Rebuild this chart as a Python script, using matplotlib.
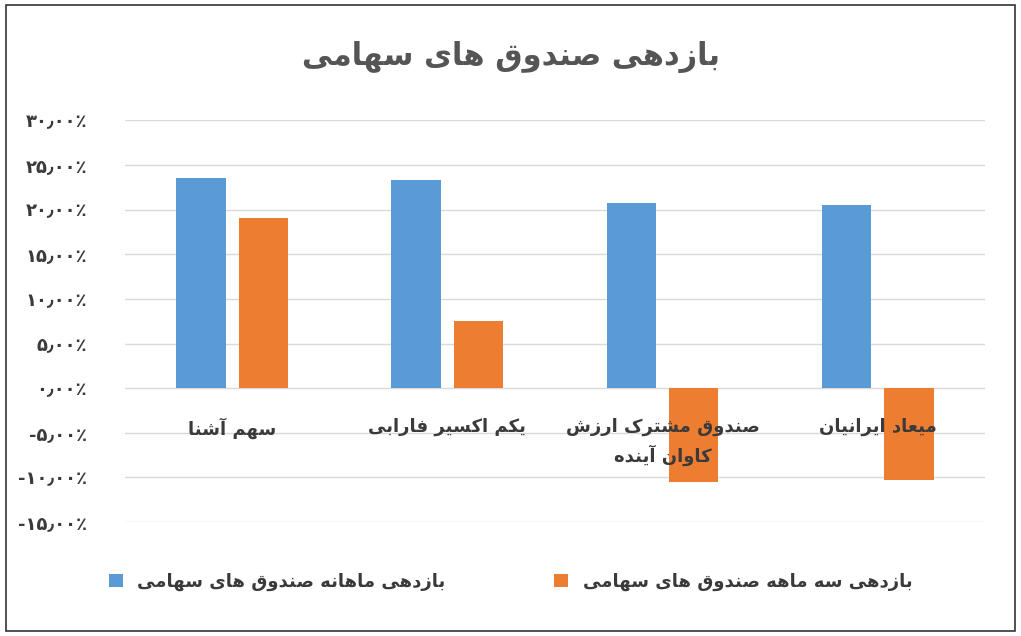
import matplotlib
matplotlib.use("Agg")
import matplotlib.pyplot as plt
import numpy as np
from matplotlib.patches import Rectangle

F = {
'ا':(0xFE8D,0xFE8E,None,None),'آ':(0xFE81,0xFE82,None,None),
'ب':(0xFE8F,0xFE90,0xFE91,0xFE92),'پ':(0xFB56,0xFB57,0xFB58,0xFB59),
'ت':(0xFE95,0xFE96,0xFE97,0xFE98),'ث':(0xFE99,0xFE9A,0xFE9B,0xFE9C),
'ج':(0xFE9D,0xFE9E,0xFE9F,0xFEA0),'چ':(0xFB7A,0xFB7B,0xFB7C,0xFB7D),
'ح':(0xFEA1,0xFEA2,0xFEA3,0xFEA4),'خ':(0xFEA5,0xFEA6,0xFEA7,0xFEA8),
'د':(0xFEA9,0xFEAA,None,None),'ذ':(0xFEAB,0xFEAC,None,None),
'ر':(0xFEAD,0xFEAE,None,None),'ز':(0xFEAF,0xFEB0,None,None),'ژ':(0xFB8A,0xFB8B,None,None),
'س':(0xFEB1,0xFEB2,0xFEB3,0xFEB4),'ش':(0xFEB5,0xFEB6,0xFEB7,0xFEB8),
'ص':(0xFEB9,0xFEBA,0xFEBB,0xFEBC),'ض':(0xFEBD,0xFEBE,0xFEBF,0xFEC0),
'ط':(0xFEC1,0xFEC2,0xFEC3,0xFEC4),'ظ':(0xFEC5,0xFEC6,0xFEC7,0xFEC8),
'ع':(0xFEC9,0xFECA,0xFECB,0xFECC),'غ':(0xFECD,0xFECE,0xFECF,0xFED0),
'ف':(0xFED1,0xFED2,0xFED3,0xFED4),'ق':(0xFED5,0xFED6,0xFED7,0xFED8),
'ک':(0xFB8E,0xFB8F,0xFB90,0xFB91),'گ':(0xFB92,0xFB93,0xFB94,0xFB95),
'ل':(0xFEDD,0xFEDE,0xFEDF,0xFEE0),'م':(0xFEE1,0xFEE2,0xFEE3,0xFEE4),
'ن':(0xFEE5,0xFEE6,0xFEE7,0xFEE8),'و':(0xFEED,0xFEEE,None,None),
'ه':(0xFEE9,0xFEEA,0xFEEB,0xFEEC),'ی':(0xFBFC,0xFBFD,0xFBFE,0xFBFF),
}
def shape(s):
    out = []
    for i, c in enumerate(s):
        if c not in F:
            out.append(c); continue
        p = s[i-1] if i > 0 else ''
        n = s[i+1] if i+1 < len(s) else ''
        jp = p in F and F[p][2] is not None
        jn = n in F and F[c][2] is not None
        f = F[c]
        if jp and jn: ch = f[3]
        elif jp: ch = f[1]
        elif jn: ch = f[2]
        else: ch = f[0]
        out.append(chr(ch))
    return ''.join(out)[::-1]

def fa(s):
    return '\n'.join(shape(l) for l in s.split('\n'))

categories = ['سهم آشنا', 'یکم اکسیر فارابی', 'صندوق مشترک ارزش\nکاوان آینده', 'میعاد ایرانیان']
monthly = [23.5, 23.3, 20.7, 20.5]
quarterly = [19.0, 7.5, -10.5, -10.3]
series_names = ['بازدهی ماهانه صندوق های سهامی', 'بازدهی سه ماهه صندوق های سهامی']
title = 'بازدهی صندوق های سهامی'
ticks = [-15, -10, -5, 0, 5, 10, 15, 20, 25, 30]

pd_ = str.maketrans('0123456789', '۰۱۲۳۴۵۶۷۸۹')
def tl(v):
    return ('%d' % v).translate(pd_) + '٫۰۰' + '٪'

plt.rcParams['font.family'] = ['DejaVu Sans']
fig = plt.figure(figsize=(10.21, 6.36), dpi=100)
fig.patches.append(Rectangle((0.006, 0.008), 0.988, 0.984, transform=fig.transFigure,
                             fill=False, ec='#333333', lw=1.2))
ax = fig.add_axes([0.122, 0.179, 0.843, 0.632])
x = np.arange(len(categories))
w = 0.23
blue, orange = '#5b9bd5', '#ed7d31'
ax.bar(x - 0.145, monthly, w, color=blue, label=fa(series_names[0]))
ax.bar(x + 0.145, quarterly, w, color=orange, label=fa(series_names[1]))
ax.set_ylim(-15, 30)
ax.set_xlim(-0.5, 3.5)
ax.set_yticks(ticks)
ax.set_yticklabels([tl(t) for t in ticks], fontsize=13, fontweight='bold', color='#3a3a3a')
ax.set_xticks([])
ax.grid(axis='y', color='#d9d9d9', lw=1)
ax.set_axisbelow(True)
for s in ax.spines.values():
    s.set_visible(False)
ax.tick_params(axis='y', length=0, pad=27)
for i, c in enumerate(categories):
    ax.text(i, -3.3, fa(c), ha='center', va='top', fontsize=13, fontweight='bold', color='#3a3a3a',
            linespacing=1.5, zorder=5)
fig.text(0.5, 0.91, fa(title), ha='center', va='center', fontsize=22, fontweight='bold', color='#555555')
fig.legend(loc='center', bbox_to_anchor=(0.5, 0.085), ncol=2, frameon=False,
           prop={'weight': 'bold', 'size': 13}, handlelength=0.8, handleheight=0.8, columnspacing=6,
           labelcolor='#3a3a3a')
fig.savefig('out.png', dpi=100)
